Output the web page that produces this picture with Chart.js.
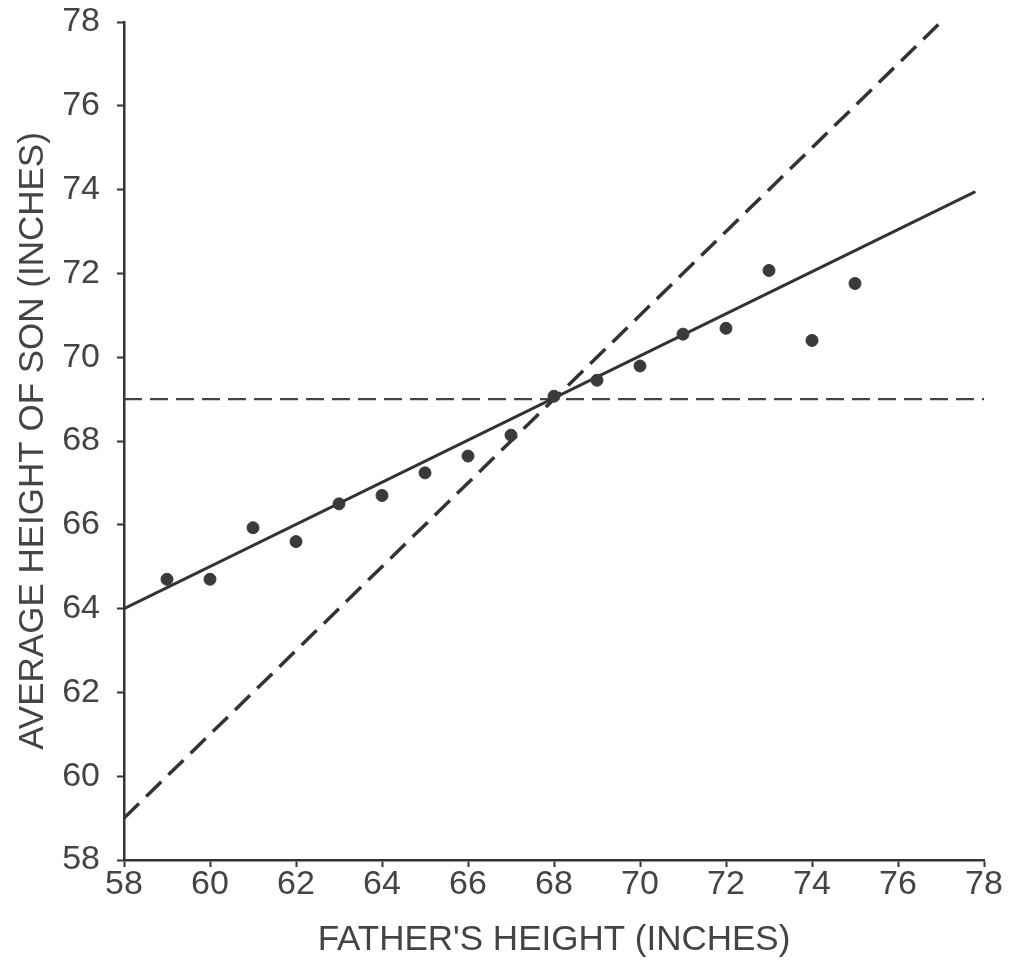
<!DOCTYPE html>
<html>
<head>
<meta charset="utf-8">
<script src="https://cdn.jsdelivr.net/npm/chart.js@4/dist/chart.umd.min.js"></script>
<style>
  html, body { margin: 0; padding: 0; background: #ffffff; }
  #wrap { width: 1011px; height: 963px; position: relative; }
</style>
</head>
<body>
<div id="wrap"><canvas id="c" width="1011" height="963"></canvas></div>
<script>
// Father's height (inches) and average son's height (inches)
const fatherHeights = [59, 60, 61, 62, 63, 64, 65, 66, 67, 68, 69, 70, 71, 72, 73, 74, 75];
const sonHeights    = [64.7, 64.7, 65.93, 65.6, 66.5, 66.7, 67.24, 67.64, 68.14, 69.07, 69.45, 69.79, 70.55, 70.69, 72.07, 70.4, 71.76];

// Regression line (solid)
const regressionX = [58, 77.8];
const regressionY = [64.0, 73.95];

// Identity-type line (long dashes)
const diagonalX = [58, 77];
const diagonalY = [59, 78];

// Mean son's height (horizontal dashed)
const meanX = [58, 78];
const meanY = [69, 69];

// Axis ticks
const axisMin = 58;
const axisMax = 78;
const tickStep = 2;

const xTitle = "FATHER'S HEIGHT (INCHES)";
const yTitle = "AVERAGE HEIGHT OF SON (INCHES)";

const ink = '#333333';
const textInk = '#444444';
const fontFamily = '"Liberation Sans", Arial, Helvetica, sans-serif';

function pairs(xs, ys) { return xs.map((x, i) => ({ x: x, y: ys[i] })); }

new Chart(document.getElementById('c'), {
  type: 'scatter',
  data: {
    datasets: [
      {
        label: 'Average height of son',
        data: pairs(fatherHeights, sonHeights),
        backgroundColor: '#3a3a3a',
        borderColor: '#3a3a3a',
        pointRadius: 6,
        pointHoverRadius: 6,
        showLine: false
      },
      {
        label: 'Regression',
        type: 'line',
        data: pairs(regressionX, regressionY),
        borderColor: ink,
        borderWidth: 3,
        pointRadius: 0,
        fill: false,
        tension: 0
      },
      {
        label: 'Diagonal',
        type: 'line',
        data: pairs(diagonalX, diagonalY),
        borderColor: ink,
        borderWidth: 3.5,
        borderDash: [21, 10],
        pointRadius: 0,
        fill: false,
        tension: 0
      },
      {
        label: 'Mean',
        type: 'line',
        data: pairs(meanX, meanY),
        borderColor: '#444444',
        borderWidth: 2.2,
        borderDash: [18, 8],
        pointRadius: 0,
        fill: false,
        tension: 0
      }
    ]
  },
  options: {
    responsive: false,
    animation: false,
    layout: { padding: { left: 0, right: 27, top: 22, bottom: 0 } },
    plugins: {
      legend: { display: false },
      tooltip: { enabled: false }
    },
    scales: {
      x: {
        type: 'linear',
        min: axisMin,
        max: axisMax,
        afterFit: (s) => { s.height = 103; },
        ticks: {
          stepSize: tickStep,
          color: textInk,
          padding: 1,
          font: { family: fontFamily, size: 34, lineHeight: 1 }
        },
        grid: {
          display: true,
          drawOnChartArea: false,
          drawTicks: true,
          tickLength: 7,
          tickWidth: 2,
          tickColor: ink
        },
        border: { display: true, color: ink, width: 2.5 },
        title: {
          display: true,
          text: xTitle,
          color: textInk,
          font: { family: fontFamily, size: 35 },
          padding: { top: 0, bottom: 2 }
        }
      },
      y: {
        type: 'linear',
        min: axisMin,
        max: axisMax,
        afterFit: (s) => { s.width = 124; s.paddingTop = 0; s.paddingBottom = 0; },
        ticks: {
          stepSize: tickStep,
          color: textInk,
          padding: 17,
          font: { family: fontFamily, size: 34 }
        },
        grid: {
          display: true,
          drawOnChartArea: false,
          drawTicks: true,
          tickLength: 7,
          tickWidth: 2,
          tickColor: ink
        },
        border: { display: true, color: ink, width: 2.5 },
        title: {
          display: true,
          text: yTitle,
          color: textInk,
          font: { family: fontFamily, size: 35 },
          padding: { top: 12, bottom: 0 }
        }
      }
    }
  }
});
</script>
</body>
</html>
